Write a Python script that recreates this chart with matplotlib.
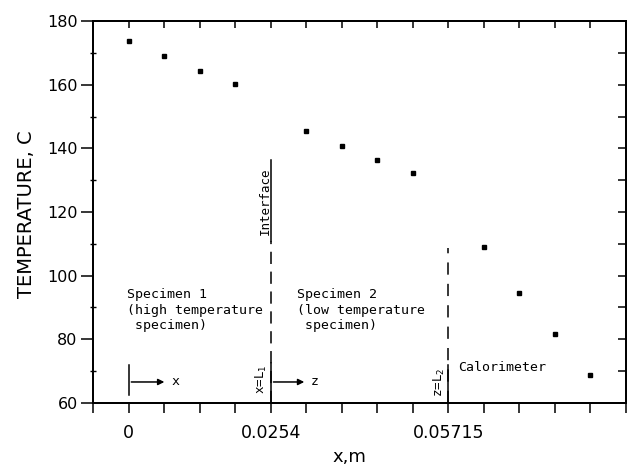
import matplotlib
matplotlib.use("Agg")
import matplotlib.pyplot as plt
from matplotlib.ticker import MultipleLocator, FixedLocator

# thermocouple positions (m) and measured temperatures (C)
pos_spec1 = [0.0, 0.00635, 0.0127, 0.01905]
temp_spec1 = [173.8, 169.1, 164.3, 160.3]
pos_spec2 = [0.03175, 0.0381, 0.04445, 0.0508]
temp_spec2 = [145.5, 140.8, 136.4, 132.4]
pos_cal = [0.0635, 0.06985, 0.0762, 0.08255]
temp_cal = [109.0, 94.6, 81.8, 68.8]

x_interface = 0.0254
x_calorimeter = 0.05715
x_ticks = [0.0, 0.0254, 0.05715]
x_ticklabels = ["0", "0.0254", "0.05715"]

mono = "DejaVu Sans Mono"
xlim = (-0.00635, 0.0889)
ylim = (60, 180)

fig = plt.figure(figsize=(6.27, 4.71), dpi=100)
ax = fig.add_axes([0.1483, 0.1444, 0.8501, 0.811])

for xs, ys in [(pos_spec1, temp_spec1), (pos_spec2, temp_spec2), (pos_cal, temp_cal)]:
    ax.plot(xs, ys, ls="none", marker="s", ms=3.0, color="black")

ax.set_xlim(*xlim)
ax.set_ylim(*ylim)

# interface line with underlined label
ax.plot([x_interface, x_interface], [60, 111], color="black", lw=1.1, ls=(0, (8, 5)))
ax.plot([x_interface, x_interface], [111, 136.2], color="black", lw=1.1)
ax.plot([x_interface, x_interface], [60, 72.5], color="black", lw=1.1)
ax.text(x_interface - 0.0009, 123.5, "Interface", rotation=90, ha="center", va="center",
        family=mono, fontsize=9)

# calorimeter boundary
ax.plot([x_calorimeter, x_calorimeter], [60, 108.6], color="black", lw=1.1, ls=(0, (8, 6)))
ax.plot([x_calorimeter, x_calorimeter], [60, 72], color="black", lw=1.1)

# origin marks and coordinate arrows
ax.plot([0, 0], [62.5, 72], color="black", lw=1.1)
ax.annotate("", xy=(0.0069, 66.6), xytext=(0, 66.6),
            arrowprops=dict(arrowstyle="-|>", color="black", lw=1.1, mutation_scale=9))
ax.text(0.0076, 66.6, "x", family=mono, fontsize=9.5, va="center")
ax.annotate("", xy=(x_interface + 0.0065, 66.6), xytext=(x_interface, 66.6),
            arrowprops=dict(arrowstyle="-|>", color="black", lw=1.1, mutation_scale=9))
ax.text(x_interface + 0.0072, 66.6, "z", family=mono, fontsize=9.5, va="center")

ax.text(x_interface - 0.0016, 67.3, "x=L$_1$", rotation=90, ha="center", va="center",
        family=mono, fontsize=9)
ax.text(x_calorimeter - 0.0016, 66.5, "z=L$_2$", rotation=90, ha="center", va="center",
        family=mono, fontsize=9)

ax.text(-0.0002, 96.0, "Specimen 1\n(high temperature\n specimen)", family=mono,
        fontsize=9.5, va="top", linespacing=1.25)
ax.text(0.0301, 96.0, "Specimen 2\n(low temperature\n specimen)", family=mono,
        fontsize=9.5, va="top", linespacing=1.25)
ax.text(0.0589, 71.2, "Calorimeter", family=mono, fontsize=9.5, va="center")

# ticks: outward on bottom/left
ax.xaxis.set_major_locator(FixedLocator(x_ticks))
ax.set_xticklabels(x_ticklabels)
ax.xaxis.set_minor_locator(MultipleLocator(0.00635))
ax.yaxis.set_major_locator(MultipleLocator(20))
ax.yaxis.set_minor_locator(MultipleLocator(10))
ax.tick_params(axis="x", which="both", direction="out", length=7, width=1.1,
               labelsize=12.5, pad=8)
ax.tick_params(axis="y", which="major", direction="out", length=9, width=1.1,
               labelsize=11.5, pad=2)
ax.tick_params(axis="y", which="minor", direction="inout", length=5, width=1)

# inward ticks on top and right via twin axes
axt = ax.twiny()
axt.set_xlim(*xlim)
axt.xaxis.set_major_locator(MultipleLocator(0.00635))
axt.tick_params(axis="x", direction="in", length=5, width=1.1, top=True,
                bottom=False, labeltop=False, labelbottom=False)
axr = ax.twinx()
axr.set_ylim(*ylim)
axr.yaxis.set_major_locator(MultipleLocator(10))
axr.tick_params(axis="y", direction="in", length=6, width=1.1, right=True,
                left=False, labelright=False, labelleft=False)

for a in (ax, axt, axr):
    for s in a.spines.values():
        s.set_linewidth(1.2)

fig.text(0.042, 0.545, "TEMPERATURE, C", rotation=90, ha="center", va="center", fontsize=14)
fig.text(0.558, 0.03, "x,m", ha="center", va="center", fontsize=13)

fig.savefig("out.png", dpi=100)
